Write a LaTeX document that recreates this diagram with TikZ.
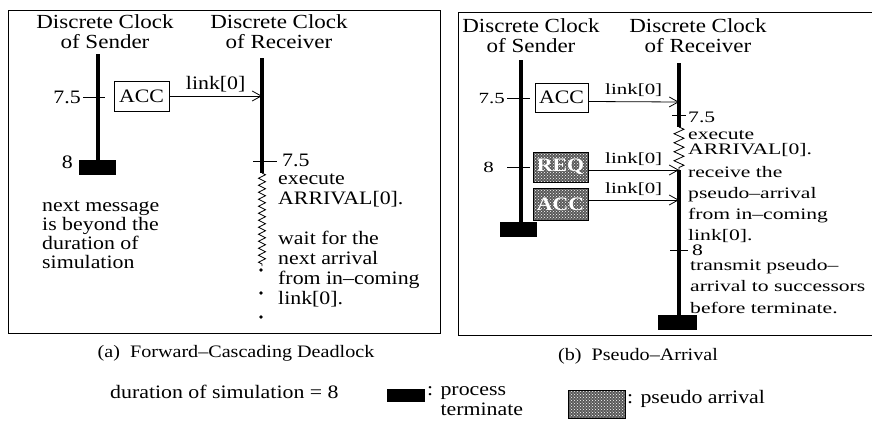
\documentclass[tikz,border=0pt]{standalone}
\usepackage{fontspec}
\setmainfont{Liberation Serif}[FakeStretch=1.15]
\newfontfamily\widefont{Liberation Serif}[FakeStretch=1.35,Ligatures=TeX]
\usepackage{tikz}
\usetikzlibrary{arrows.meta,positioning,patterns,decorations.pathmorphing}
\tikzset{
  panel/.style={draw=black,line width=0.9pt},
  clock/.style={line width=4pt},
  tick/.style={line width=0.8pt},
  lbl/.style={font=\fontsize{19}{20}\selectfont,inner sep=0pt},
  txt/.style={lbl,align=left,anchor=base west},
  blbl/.style={lbl,font=\widefont\fontsize{15.5}{20}\selectfont},
  btxt/.style={txt,font=\widefont\fontsize{16}{20.7}\selectfont},
  head/.style={font=\fontsize{20}{19.5}\selectfont,inner sep=0pt,align=center,anchor=base},
  captxt/.style={font=\fontsize{17.5}{18}\selectfont,inner sep=0pt,anchor=base},
  msg/.style={draw=black,line width=0.8pt,minimum width=55pt,minimum height=30pt,inner sep=0pt,
              font=\fontsize{19}{20}\selectfont},
  pseudo/.style={msg,preaction={fill=black!65},pattern=crosshatch dots,pattern color=white,
                 text=white,font=\bfseries\fontsize{19}{20}\selectfont},
  term/.style={fill=black,minimum width=37pt,minimum height=15pt,inner sep=0pt},
  arr/.style={-{Straight Barb[length=9pt,width=10pt]},line width=0.8pt},
  wait/.style={line width=0.8pt,decorate,decoration={zigzag,segment length=7pt,amplitude=3.5pt}},
}
\begin{document}
\begin{tikzpicture}[x=1pt,y=-1pt]
\clip (0,0) rectangle (872,423);
\draw[panel] (8,10) rectangle (440,333);
\draw[panel] (458,12) rectangle (890,335);

% (a) forward-cascading deadlock
\node[head] (sndA) at (105,48) {Discrete Clock\\of Sender};
\node[head] (rcvA) at (279,48) {Discrete Clock\\of Receiver};
\node[term] (endA) at (97.5,167.5) {};
\coordinate (sA) at (98,54);
\draw[clock] (sA) -- (endA.north -| sA);
\draw[tick] (83,97) -- (105,97);
\node[lbl,anchor=base east] (t75A) at (81,103) {7.5};
\node[lbl,anchor=base east] (t8A) at (73,168) {8};
\node[msg] (accA) at (141.5,96) {ACC};
\coordinate (rA) at (262,58);
\coordinate (inA) at (262,96);
\coordinate (zA) at (262,173);
\coordinate (zA2) at (262,266);
\draw[clock] (rA) -- (zA);
\draw[wait] (zA) -- (zA2);
\foreach \y in {270,293,317} \fill (261,\y) circle (1.8pt);
\draw[arr] (accA) -- node[lbl,above=4pt] {link[0]} (inA);
\draw[tick] (253,161) -- (277,161);
\node[txt] (r75A) at (282,166) {7.5};
\node[txt] (execA) at (278,304) {execute\\ARRIVAL[0].\\[20pt]wait for the\\next arrival\\from in--coming\\link[0].};
\node[txt,font=\fontsize{19}{19}\selectfont] (noteA) at (42,268) {next message\\is beyond the\\duration of\\simulation};
\node[captxt] (capA) at (236,357) {(a)\ \ Forward--Cascading Deadlock};

% (b) pseudo-arrival
\node[head] (sndB) at (531,52) {Discrete Clock\\of Sender};
\node[head] (rcvB) at (698,52) {Discrete Clock\\of Receiver};
\node[term] (endB) at (518.5,229.5) {};
\coordinate (sB) at (521,60);
\draw[clock] (sB) -- (endB.north -| sB);
\draw[tick] (507,98) -- (530,98);
\node[blbl,anchor=base east] (t75B) at (505,103) {7.5};
\draw[tick] (507,167) -- (530,167);
\node[blbl,anchor=base east] (t8B) at (494,172) {8};
\node[msg,minimum width=53pt,minimum height=29pt] (accB) at (561.5,97.5) {ACC};
\node[pseudo] (reqB) at (560.5,167) {REQ};
\node[pseudo,minimum height=32pt] (pacB) at (560.5,204) {ACC};
\node[term,minimum width=39pt] (endR) at (677.5,322.5) {};
\coordinate (rB) at (679,63);
\coordinate (zB) at (679,127);
\coordinate (zB2) at (679,170);
\draw[clock] (rB) -- (zB);
\draw[wait,decoration={segment length=9pt,amplitude=5pt}] (zB) -- (zB2);
\draw[clock] (zB2) -- (endR.north -| zB2);
\coordinate (inB1) at (679,102);
\coordinate (inB2) at (679,170);
\coordinate (inB3) at (679,200);
\draw[arr] ([yshift=-4pt]accB.east) -- node[blbl,above=5pt] {link[0]} (inB1);
\draw[arr] ([yshift=-3pt]reqB.east) -- node[blbl,above=4pt] {link[0]} (inB2);
\draw[arr] ([yshift=4pt]pacB.east) -- node[blbl,above=4pt] {link[0]} (inB3);
\draw[tick] (672,115) -- (686,115);
\node[btxt] (r75B) at (688,122.5) {7.5};
\node[btxt] (execB) at (688,154) {execute\\[-6pt]ARRIVAL[0].};
\node[btxt] (recvB) at (688,240) {receive the\\pseudo--arrival\\from in--coming\\link[0].};
\draw[tick] (670,250) -- (688,250);
\node[btxt] (r8B) at (692,255) {8};
\node[btxt,font=\widefont\fontsize{16}{21.5}\selectfont] (sendB) at (690,313) {transmit pseudo--\\arrival to successors\\before terminate.};
\node[captxt] (capB) at (638,360) {(b)\ \ Pseudo--Arrival};

% legend
\node[txt] (dur) at (110,398) {duration of simulation = 8};
\node[term,minimum width=38pt,minimum height=13pt] (keyT) at (406,395.5) {};
\node[txt] (keyTl) at (427,415) {: process\\\hphantom{: }terminate};
\node[pseudo,minimum width=57pt,minimum height=28pt] (keyP) at (596.5,404) {};
\node[txt] (keyPl) at (627,403) {: pseudo arrival};
\end{tikzpicture}
\end{document}
